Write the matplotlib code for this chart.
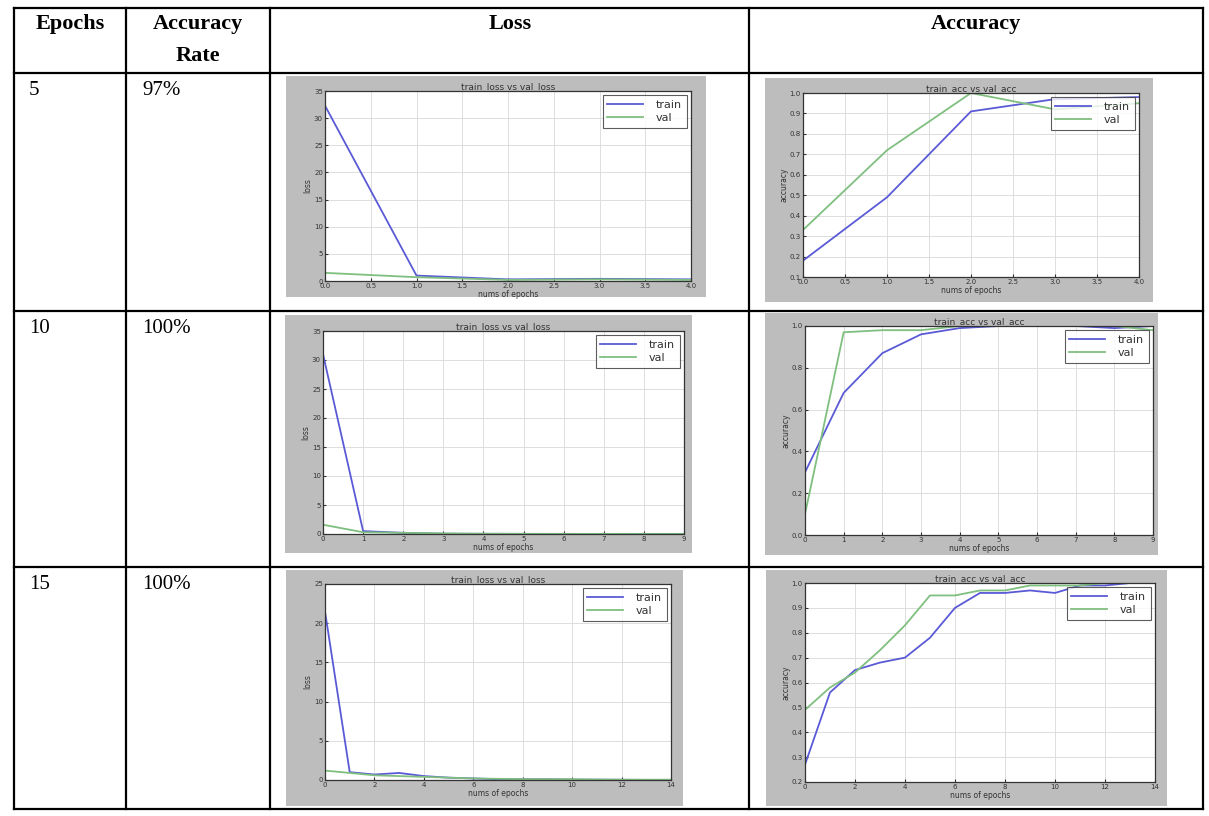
import matplotlib
matplotlib.use("Agg")
import matplotlib.pyplot as plt
from matplotlib.lines import Line2D
from matplotlib.patches import Rectangle

W, H = 1209, 816

# table text
epochs_col = ["5", "10", "15"]
rate_col = ["97%", "100%", "100%"]

# run with 5 epochs
loss5_train = [32.3, 1.0, 0.3, 0.4, 0.3]
loss5_val = [1.5, 0.7, 0.2, 0.3, 0.2]
acc5_train = [0.18, 0.49, 0.91, 0.97, 0.98]
acc5_val = [0.33, 0.72, 1.0, 0.92, 0.95]

# run with 10 epochs
loss10_train = [31.0, 0.5, 0.2, 0.05, 0.03, 0.02, 0.02, 0.01, 0.01, 0.01]
loss10_val = [1.6, 0.3, 0.2, 0.1, 0.05, 0.03, 0.02, 0.02, 0.01, 0.01]
acc10_train = [0.30, 0.68, 0.87, 0.96, 0.99, 1.0, 1.0, 1.0, 0.99, 1.0]
acc10_val = [0.10, 0.97, 0.98, 0.98, 1.0, 1.0, 1.0, 1.0, 1.0, 0.98]

# run with 15 epochs
loss15_train = [21.5, 1.0, 0.7, 0.9, 0.5, 0.3, 0.2, 0.1, 0.1, 0.1, 0.05, 0.05, 0.03, 0.02, 0.02]
loss15_val = [1.2, 0.9, 0.6, 0.5, 0.4, 0.3, 0.2, 0.15, 0.1, 0.1, 0.1, 0.05, 0.04, 0.03, 0.03]
acc15_train = [0.27, 0.56, 0.65, 0.68, 0.70, 0.78, 0.90, 0.96, 0.96, 0.97, 0.96, 0.99, 0.99, 1.0, 1.0]
acc15_val = [0.49, 0.58, 0.64, 0.73, 0.83, 0.95, 0.95, 0.97, 0.97, 0.99, 0.99, 0.99, 1.0, 1.0, 1.0]

fig = plt.figure(figsize=(W / 100, H / 100), dpi=100)
fig.patch.set_facecolor("white")


def fx(x):
    return x / W


def fy(y):
    return 1 - y / H


# ---- table grid
cols = [14, 126, 270, 749, 1203]
rows = [8, 73, 311, 567, 809]
for x in cols:
    fig.add_artist(Line2D([fx(x), fx(x)], [fy(rows[0]), fy(rows[-1])], color="black", lw=1.6))
for y in rows:
    fig.add_artist(Line2D([fx(cols[0]), fx(cols[-1])], [fy(y), fy(y)], color="black", lw=1.6))

serif = "Liberation Serif"
fig.text(fx(70), fy(24), "Epochs", ha="center", va="center", fontsize=16, fontweight="bold", family=serif)
fig.text(fx(198), fy(24), "Accuracy", ha="center", va="center", fontsize=16, fontweight="bold", family=serif)
fig.text(fx(198), fy(56), "Rate", ha="center", va="center", fontsize=16, fontweight="bold", family=serif)
fig.text(fx(510), fy(24), "Loss", ha="center", va="center", fontsize=16, fontweight="bold", family=serif)
fig.text(fx(976), fy(24), "Accuracy", ha="center", va="center", fontsize=16, fontweight="bold", family=serif)

row_tops = [81, 319, 575]
for i in range(3):
    fig.text(fx(29), fy(row_tops[i]), epochs_col[i], ha="left", va="top", fontsize=15, family=serif)
    fig.text(fx(142), fy(row_tops[i]), rate_col[i], ha="left", va="top", fontsize=15, family=serif)


def draw(box, ax_box, train, val, title, ylabel, ylim, yticks, xticks, xfmt):
    # gray image background
    bx0, by0, bx1, by1 = box
    fig.add_artist(Rectangle((fx(bx0), fy(by1)), fx(bx1 - bx0), (by1 - by0) / H,
                             facecolor="#bdbdbd", edgecolor="none", zorder=0))
    x0, y0, x1, y1 = ax_box
    ax = fig.add_axes([fx(x0), fy(y1), fx(x1 - x0), (y1 - y0) / H])
    ax.set_facecolor("white")
    ep = list(range(len(train)))
    ax.plot(ep, train, color="#5a5ad6", lw=1.3, label="train")
    ax.plot(ep, val, color="#7fbf7f", lw=1.3, label="val")
    ax.set_xlim(xticks[0], xticks[-1])
    ax.set_ylim(*ylim)
    ax.set_xticks(xticks)
    ax.set_xticklabels([xfmt.format(t) for t in xticks])
    ax.set_yticks(yticks)
    ax.set_yticklabels(["{:g}".format(t) if ylim[1] > 2 else "{:.1f}".format(t) for t in yticks])
    ax.tick_params(labelsize=5, direction="in", length=2, pad=1.5, colors="#333333")
    ax.grid(True, color="#dddddd", lw=0.7)
    for s in ax.spines.values():
        s.set_color("#333333")
        s.set_linewidth(0.9)
    ax.set_title(title, fontsize=6.5, pad=1.5, color="#333333")
    ax.set_xlabel("nums of epochs", fontsize=5.5, labelpad=1, color="#333333")
    ax.set_ylabel(ylabel, fontsize=5.5, labelpad=1, color="#333333")
    leg = ax.legend(loc="upper right", fontsize=8, fancybox=False, handlelength=3.2,
                    borderaxespad=0.4, labelspacing=0.3, handletextpad=1.2)
    leg.get_frame().set_edgecolor("#333333")
    leg.get_frame().set_linewidth(0.8)
    for t in leg.get_texts():
        t.set_color("#333333")


draw((286, 76, 706, 297), (325, 91, 691, 281), loss5_train, loss5_val,
     "train_loss vs val_loss", "loss", (0, 35), list(range(0, 36, 5)),
     [0, 0.5, 1, 1.5, 2, 2.5, 3, 3.5, 4], "{:.1f}")
draw((765, 78, 1153, 302), (803, 93, 1139, 277), acc5_train, acc5_val,
     "train_acc vs val_acc", "accuracy", (0.1, 1.0), [0.1 * k for k in range(1, 11)],
     [0, 0.5, 1, 1.5, 2, 2.5, 3, 3.5, 4], "{:.1f}")

draw((285, 315, 692, 553), (323, 331, 684, 534), loss10_train, loss10_val,
     "train_loss vs val_loss", "loss", (0, 35), list(range(0, 36, 5)),
     list(range(10)), "{}")
draw((765, 313, 1158, 555), (805, 326, 1153, 535), acc10_train, acc10_val,
     "train_acc vs val_acc", "accuracy", (0, 1.0), [0, 0.2, 0.4, 0.6, 0.8, 1.0],
     list(range(10)), "{}")

draw((286, 570, 683, 806), (325, 584, 671, 780), loss15_train, loss15_val,
     "train_loss vs val_loss", "loss", (0, 25), list(range(0, 26, 5)),
     list(range(0, 15, 2)), "{}")
draw((766, 570, 1167, 806), (805, 583, 1155, 782), acc15_train, acc15_val,
     "train_acc vs val_acc", "accuracy", (0.2, 1.0), [0.1 * k for k in range(2, 11)],
     list(range(0, 15, 2)), "{}")

fig.savefig("out.png", dpi=100)
